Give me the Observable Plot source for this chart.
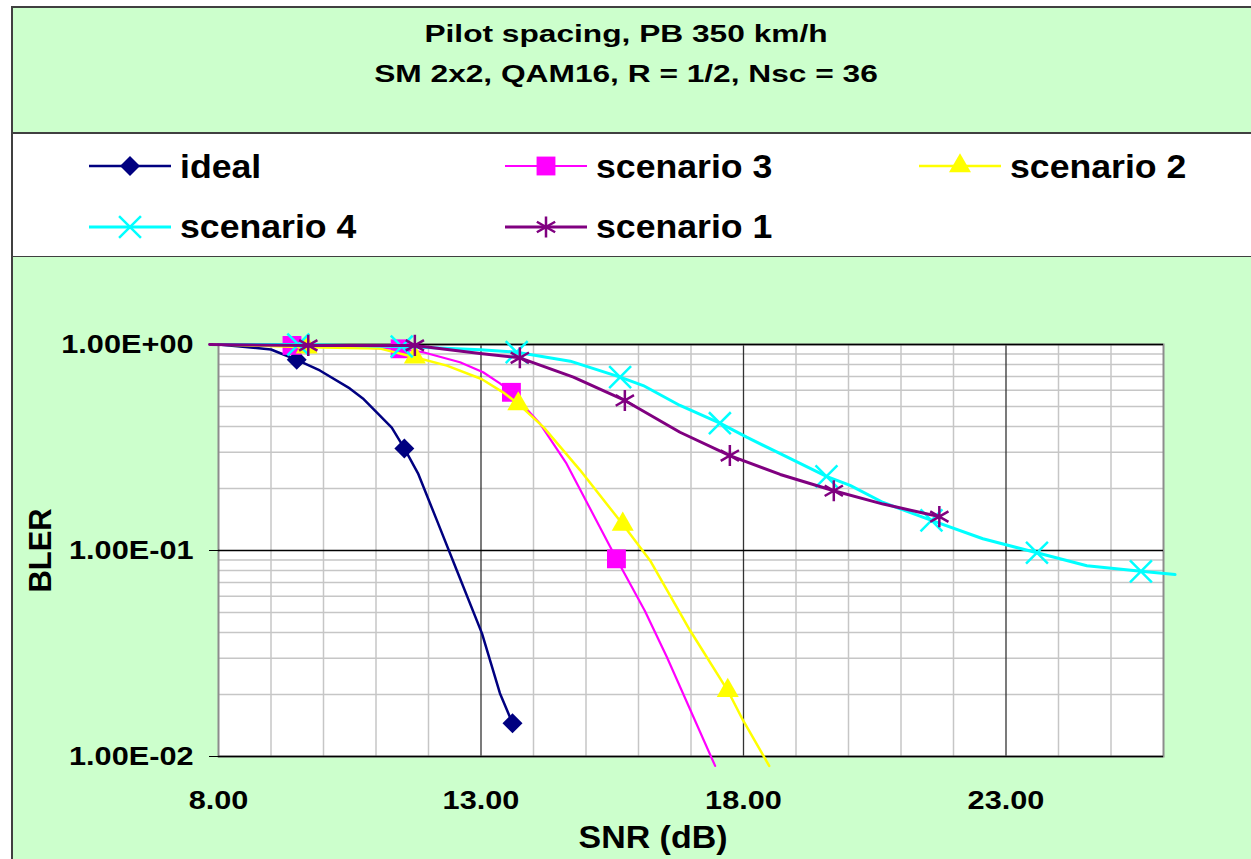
<!DOCTYPE html>
<html><head><meta charset="utf-8">
<script src="https://cdn.jsdelivr.net/npm/d3@7"></script>
<script src="https://cdn.jsdelivr.net/npm/@observablehq/plot@0.6"></script>
<style>
body{margin:0;background:#fff;}
#chart{position:relative;width:1251px;height:859px;overflow:hidden;font-family:"Liberation Sans",Arial,sans-serif;font-weight:bold;}
#area{position:absolute;left:11px;top:6px;width:1300px;height:900px;background:#CCFFCC;border:2px solid #404040;}
#header{position:absolute;left:0;top:0;}
#plot{position:absolute;left:0;top:257px;}
</style></head><body>
<div id="chart"><div id="area"></div><svg id="header" width="1251" height="257"></svg><div id="plot"></div></div>
<script>
// ---- texts ----
const titleLines = ["Pilot spacing, PB 350 km/h", "SM 2x2, QAM16, R = 1/2, Nsc = 36"];
const xLabel = "SNR (dB)";
const yLabel = "BLER";
const seriesNames = ["ideal", "scenario 3", "scenario 2", "scenario 4", "scenario 1"];

// ---- ticks ----
const xTicks = [8, 13, 18, 23];
const xMajorGrid = [13, 18, 23];
const xMinorGrid = [9, 10, 11, 12, 14, 15, 16, 17, 19, 20, 21, 22, 24, 25];
const yTicks = [1, 0.1, 0.01];
const yMinorGrid = [0.02, 0.03, 0.04, 0.05, 0.06, 0.07, 0.08, 0.09, 0.2, 0.3, 0.4, 0.5, 0.6, 0.7, 0.8, 0.9];

// ---- series values ----
const idealSNR  = [8, 9.0, 9.49, 9.93, 10.5, 10.75, 11.3, 11.54, 11.8, 12.16, 12.54, 13.02, 13.36, 13.6];
const idealBLER = [1.0, 0.946, 0.843, 0.748, 0.612, 0.547, 0.395, 0.313, 0.237, 0.140, 0.080, 0.0395, 0.0203, 0.0145];
const idealMarkers = [2, 7, 13];

const sc3SNR  = [8, 9.4, 11.46, 11.9, 12.6, 13.04, 13.36, 13.58, 14.12, 14.63, 15.58, 16.12, 16.54, 17.46];
const sc3BLER = [1.0, 0.99, 0.953, 0.917, 0.82, 0.733, 0.647, 0.586, 0.414, 0.264, 0.0911, 0.051, 0.0304, 0.0090];
const sc3Markers = [1, 2, 7, 10];

const sc2SNR  = [8, 9.68, 11.08, 11.74, 12.35, 13.01, 13.42, 13.71, 14.19, 14.89, 15.7, 16.22, 16.98, 17.7, 17.99, 18.49];
const sc2BLER = [1.0, 0.97, 0.955, 0.868, 0.79, 0.68, 0.586, 0.515, 0.397, 0.245, 0.134, 0.0895, 0.041, 0.0209, 0.0150, 0.0090];
const sc2Markers = [1, 3, 7, 10, 13];

const sc4SNR  = [8, 9.52, 11.49, 12.99, 13.68, 14.7, 15.65, 16.09, 16.79, 17.55, 18.06, 18.7, 19.58, 20.03, 20.66, 21.58, 22.56, 23.59, 24.54, 25.57, 26.22];
const sc4BLER = [1.0, 1.0, 0.978, 0.942, 0.918, 0.83, 0.694, 0.632, 0.506, 0.415, 0.355, 0.295, 0.229, 0.207, 0.171, 0.140, 0.114, 0.0975, 0.0844, 0.0792, 0.0764];
const sc4Markers = [1, 2, 4, 6, 9, 12, 15, 17, 19];

const sc1SNR  = [7.83, 9.71, 11.74, 12.98, 13.74, 14.76, 15.74, 16.79, 17.74, 18.7, 19.72, 20.66, 21.42, 21.73];
const sc1BLER = [1.0, 0.99, 0.99, 0.905, 0.862, 0.694, 0.535, 0.375, 0.289, 0.234, 0.195, 0.168, 0.152, 0.146];
const sc1Markers = [1, 2, 4, 6, 8, 10, 13];

// ---- styles ----
const seriesData = [
  [idealSNR, idealBLER, idealMarkers],
  [sc3SNR, sc3BLER, sc3Markers],
  [sc2SNR, sc2BLER, sc2Markers],
  [sc4SNR, sc4BLER, sc4Markers],
  [sc1SNR, sc1BLER, sc1Markers]
];
const styles = [
  {color: "#000080", symbol: "diamond2", r: 9, width: 2.5, filled: true},
  {color: "#FF00FF", symbol: "square2", r: 12, width: 2.2, filled: true},
  {color: "#FFFF00", symbol: "triangle2", r: 10.5, width: 2.5, filled: true},
  {color: "#00FFFF", symbol: "times", r: 10, width: 3, filled: false},
  {color: "#800080", symbol: "asterisk", r: 10, width: 3, filled: false}
];
const d3Symbols = {diamond2: d3.symbolDiamond2, square2: d3.symbolSquare2, triangle2: d3.symbolTriangle2, times: d3.symbolTimes, asterisk: d3.symbolAsterisk};

const rows = [];
seriesNames.forEach((name, s) => {
  const [xs, ys, ms] = seriesData[s];
  xs.forEach((x, i) => rows.push({series: name, snr: x, bler: ys[i], marker: ms.includes(i)}));
});

const fmtE = v => {
  const [m, e] = v.toExponential(2).split("e");
  const n = +e;
  return m + "E" + (n < 0 ? "-" : "+") + String(Math.abs(n)).padStart(2, "0");
};

function stretch(el, k) {
  const L = el.getComputedTextLength();
  el.setAttribute("textLength", L * k);
  el.setAttribute("lengthAdjust", "spacingAndGlyphs");
}

// ---- header: title + legend ----
const hdr = d3.select("#header");
hdr.append("rect").attr("x", 12).attr("y", 133).attr("width", 1300).attr("height", 124)
  .attr("fill", "white").attr("stroke", "#404040").attr("stroke-width", 2);
const titleBaselines = [42, 82];
titleLines.forEach((t, i) => {
  const el = hdr.append("text").attr("x", 626).attr("y", titleBaselines[i])
    .attr("text-anchor", "middle").style("font-size", "24px").style("font-weight", "bold").text(t).node();
  stretch(el, 1.32);
});
const legendSlots = [{x0: 89, row: 0}, {x0: 505, row: 0}, {x0: 919, row: 0}, {x0: 89, row: 1}, {x0: 505, row: 1}];
const rowLineY = [166, 227], rowTextY = [178, 238];
seriesNames.forEach((name, s) => {
  const st = styles[s], slot = legendSlots[s];
  const y = rowLineY[slot.row];
  hdr.append("line").attr("x1", slot.x0).attr("x2", slot.x0 + 82).attr("y1", y).attr("y2", y)
    .attr("stroke", st.color).attr("stroke-width", st.width);
  const p = d3.symbol(d3Symbols[st.symbol], st.r * st.r * Math.PI)();
  const sym = hdr.append("path").attr("d", p).attr("transform", `translate(${slot.x0 + 41},${y})`);
  if (st.filled) sym.attr("fill", st.color); else sym.attr("fill", "none").attr("stroke", st.color).attr("stroke-width", 2.5);
  const el = hdr.append("text").attr("x", slot.x0 + 91).attr("y", rowTextY[slot.row])
    .style("font-size", "33px").style("font-weight", "bold").text(name).node();
  stretch(el, 1.08);
});

// ---- plot ----
const marks = [
  Plot.frame({fill: "white"}),
  Plot.ruleX(xMinorGrid, {stroke: "#c6c6c6", strokeWidth: 1.5}),
  Plot.ruleY(yMinorGrid, {stroke: "#c6c6c6", strokeWidth: 1.5}),
  Plot.ruleX(xMajorGrid, {stroke: "#333", strokeWidth: 1.3}),
  Plot.frame({stroke: "#8c8c8c", strokeWidth: 2}),
  Plot.ruleY(yTicks, {stroke: "#000", strokeWidth: 1.3}),
  Plot.axisX({ticks: xTicks, tickFormat: d3.format(".2f"), tickSize: 0, tickPadding: 34, label: null}),
  Plot.axisY({ticks: yTicks, tickFormat: fmtE, tickSize: 9, tickPadding: 16, label: null})
];
seriesNames.forEach((name, s) => {
  const st = styles[s];
  const data = rows.filter(d => d.series === name);
  marks.push(Plot.line(data, {x: "snr", y: "bler", stroke: st.color, strokeWidth: st.width}));
  const dotOpts = {x: "snr", y: "bler", symbol: st.symbol, r: st.r, filter: d => d.marker};
  if (st.filled) Object.assign(dotOpts, {fill: st.color, stroke: "none"});
  else Object.assign(dotOpts, {fill: "none", stroke: st.color, strokeWidth: 2.5});
  marks.push(Plot.dot(data, dotOpts));
});
marks.push(Plot.text([xLabel], {frameAnchor: "bottom", dx: -38, dy: 91, lineAnchor: "bottom", textAnchor: "middle", fontSize: 32, className: "lbl-x"}));
marks.push(Plot.text([yLabel], {frameAnchor: "left", rotate: -90, dx: -168, lineAnchor: "bottom", textAnchor: "middle", fontSize: 32, className: "lbl-y"}));

const chart = Plot.plot({
  width: 1251, height: 602,
  marginLeft: 218, marginRight: 88, marginTop: 87, marginBottom: 103,
  x: {domain: [8, 26]},
  y: {type: "log", domain: [0.01, 1]},
  style: {background: "none", fontFamily: "'Liberation Sans', Arial, sans-serif", fontWeight: "bold", fontSize: "26px", overflow: "visible"},
  marks
});
document.getElementById("plot").appendChild(chart);

chart.querySelectorAll('g[aria-label="x-axis tick label"] text, g[aria-label="y-axis tick label"] text').forEach(t => stretch(t, 1.18));
chart.querySelectorAll('.lbl-x text').forEach(t => stretch(t, 1.06));
chart.querySelectorAll('.lbl-y text').forEach(t => stretch(t, 0.965));
</script>
</body></html>
